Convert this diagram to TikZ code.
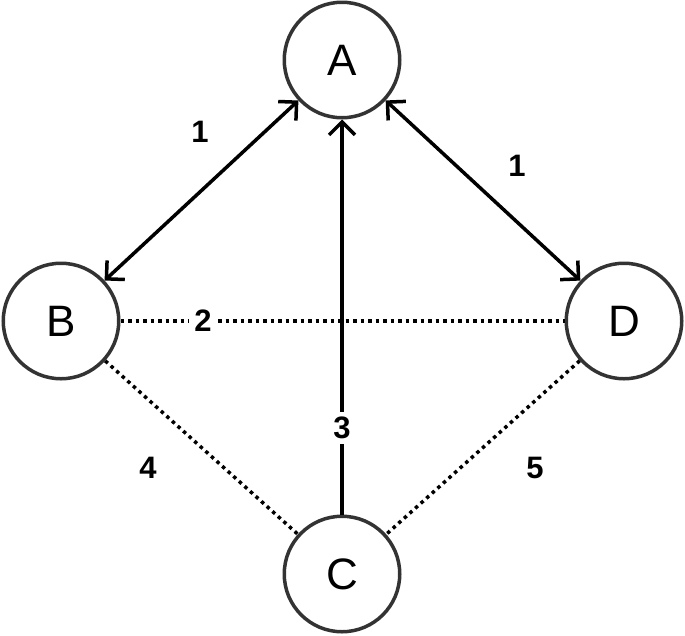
\documentclass[tikz,border=0pt]{standalone}
\usepackage{fontspec}
\setmainfont{Liberation Sans}
\usetikzlibrary{arrows.meta}
\tikzset{
  vertex/.style={circle, draw=black!80, line width=3.5pt, minimum size=115.5pt, inner sep=0pt,
    font=\fontsize{44}{48}\selectfont},
  link/.style={line width=3.5pt, black},
  dotlink/.style={line width=3.5pt, black, dash pattern=on 3.5pt off 4pt},
  tip/.style={-{Straight Barb[length=13pt,width=26pt,line width=3.5pt]}},
  both/.style={{Straight Barb[length=13pt,width=26pt,line width=3.5pt]}-{Straight Barb[length=13pt,width=26pt,line width=3.5pt]}},
  lbl/.style={font=\fontsize{31}{34}\selectfont\bfseries, inner sep=2pt},
  gaplbl/.style={lbl, fill=white, inner sep=5pt}
}
\begin{document}
\begin{tikzpicture}[x=1pt,y=-1pt]
\useasboundingbox (0,0) rectangle (685,635);
\node[vertex] (A) at (342,60) {A};
\node[vertex] (B) at (61,321) {B};
\node[vertex] (D) at (624,321) {D};
\node[vertex] (C) at (342,574) {C};

\draw[link,both] (A) -- (B);
\draw[link,both] (A) -- (D);
\draw[link,tip] (C) -- node[gaplbl,pos=0.22] (l3) {3} (A);
\draw[dotlink] (B) -- node[gaplbl,pos=0.186] (l2) {2} (D);
\draw[dotlink] (B) -- (C);
\draw[dotlink] (D) -- (C);

\node[lbl] (l1a) at (200,132) {1};
\node[lbl] (l1b) at (517,166) {1};
\node[lbl] (l4) at (148,468) {4};
\node[lbl] (l5) at (535,468) {5};
\end{tikzpicture}
\end{document}
